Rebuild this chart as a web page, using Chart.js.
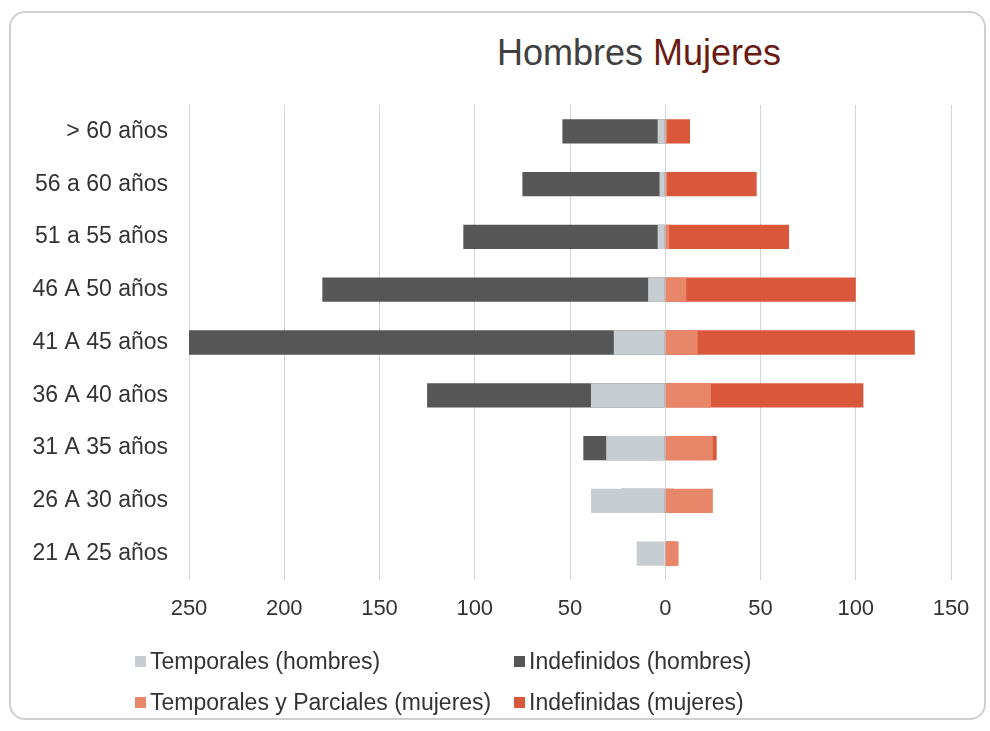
<!DOCTYPE html>
<html>
<head>
<meta charset="utf-8">
<script src="https://cdn.jsdelivr.net/npm/chart.js@4/dist/chart.umd.min.js"></script>
<style>
  body { margin: 0; background: #fff; font-family: "Liberation Sans", Arial, sans-serif; }
  #wrap { position: relative; width: 990px; height: 731px; }
  #box { position: absolute; left: 9px; top: 11px; width: 977px; height: 709px; border: 2px solid #cfcfcf; border-radius: 16px; box-sizing: border-box; }
  #title { position: absolute; left: 497px; top: 32px; font-size: 36px; color: #404040; white-space: nowrap; }
  #title span { color: #6b1a14; }
  .leg { position: absolute; font-size: 23px; color: #333; white-space: nowrap; }
  .leg i { display: inline-block; width: 11px; height: 11px; margin-right: 4px; vertical-align: 2px; }
  canvas { position: absolute; left: 0; top: 0; }
</style>
</head>
<body>
<div id="wrap">
  <div id="box"></div>
  <div id="title">Hombres <span>Mujeres</span></div>
  <canvas id="chart" width="990" height="731"></canvas>
  <div id="legend"></div>
</div>
<script>
// grupos de edad, de arriba hacia abajo
var categorias = ['> 60 años', '56 a 60 años', '51 a 55 años', '46 A 50 años', '41 A 45 años', '36 A 40 años', '31 A 35 años', '26 A 30 años', '21 A 25 años'];

// hombres (se dibujan en negativo)
var temporalesHombres = [4, 3, 4, 9, 27, 39, 31, 39, 15];
var indefinidosHombres = [54, 75, 106, 180, 250, 125, 43, 23, 0];
// mujeres
var temporalesMujeres = [1, 1, 2, 11, 17, 24, 25, 25, 7];
var indefinidasMujeres = [13, 48, 65, 100, 131, 104, 27, 4, 6];

var ticksX = [-250, -200, -150, -100, -50, 0, 50, 100, 150];

function neg(arr) { return arr.map(function (v) { return -v; }); }

var datasets = [
  { label: 'Temporales (hombres)', data: neg(temporalesHombres), backgroundColor: '#c8cdd2', order: 0 },
  { label: 'Indefinidos (hombres)', data: neg(indefinidosHombres), backgroundColor: '#565656', order: 1 },
  { label: 'Temporales y Parciales (mujeres)', data: temporalesMujeres, backgroundColor: '#e8866a', order: 0 },
  { label: 'Indefinidas (mujeres)', data: indefinidasMujeres, backgroundColor: '#d9583b', order: 1 }
];

var ctx = document.getElementById('chart').getContext('2d');
var myChart = new Chart(ctx, {
  type: 'bar',
  data: { labels: categorias, datasets: datasets },
  options: {
    indexAxis: 'y',
    responsive: false,
    animation: false,
    barPercentage: 0.46,
    categoryPercentage: 1,
    layout: { padding: { left: 0, right: 39, top: 105, bottom: 101 } },
    scales: {
      x: {
        min: -250, max: 150,
        stacked: false,
        afterBuildTicks: function (s) { s.ticks = ticksX.map(function (v) { return { value: v }; }); },
        afterFit: function (s) { s.height = 50; },
        grid: { color: '#cdd6de', drawTicks: false },
        border: { display: false },
        ticks: {
          padding: 16,
          color: '#333',
          font: { family: 'Liberation Sans', size: 22 },
          callback: function (v) { return Math.abs(v); }
        }
      },
      y: {
        stacked: true,
        afterFit: function (s) { s.width = 189; },
        grid: { display: false },
        border: { display: false },
        ticks: { padding: 13, color: '#333', font: { family: 'Liberation Sans', size: 23 } }
      }
    },
    plugins: {
      legend: { display: false },
      tooltip: { enabled: false }
    }
  }
});

// leyenda en dos filas como el original
var pos = [[135, 648], [514, 648], [135, 689], [514, 689]];
var legend = document.getElementById('legend');
datasets.forEach(function (d, i) {
  var el = document.createElement('div');
  el.className = 'leg';
  el.style.left = pos[i][0] + 'px';
  el.style.top = pos[i][1] + 'px';
  el.innerHTML = '<i style="background:' + d.backgroundColor + '"></i>' + d.label;
  legend.appendChild(el);
});
</script>
</body>
</html>
